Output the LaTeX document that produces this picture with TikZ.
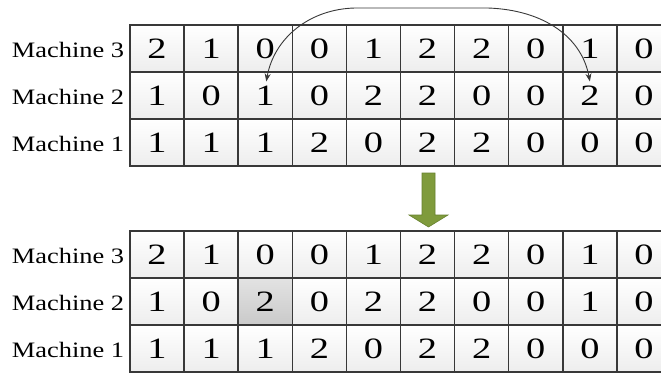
\documentclass[tikz,border=0pt]{standalone}
\usepackage{fontspec}
\setmainfont{Liberation Serif}
\newfontfamily\labfont{Liberation Serif}[FakeStretch=1.2]
\newfontfamily\digfont{Liberation Serif}[FakeStretch=1.3]
\usetikzlibrary{arrows.meta,calc}
\definecolor{gridline}{HTML}{383838}
\definecolor{olivearrow}{HTML}{7F9B3C}
\definecolor{olivedark}{HTML}{66802E}
\tikzset{
  cell/.style={draw=gridline, line width=1.4pt, minimum width=54pt, minimum height=47pt,
    inner sep=0pt, top color=white, bottom color=gray!14, font=\digfont\fontsize{29.5}{29.5}\selectfont},
  hicell/.style={cell, top color=gray!22, bottom color=gray!42},
  machlabel/.style={anchor=east, inner sep=0pt, font=\labfont\fontsize{22}{22}\selectfont},
  swaparrow/.style={draw=gridline, line width=0.9pt, {Stealth[length=8pt,width=6pt]}-{Stealth[length=8pt,width=6pt]}}
}
\begin{document}
\begin{tikzpicture}[x=1pt,y=-1pt]
\useasboundingbox (0,0) rectangle (661,372);
% top grid
\foreach \rowvals [count=\r] in {{2,1,0,0,1,2,2,0,1,0},{1,0,1,0,2,2,0,0,2,0},{1,1,1,2,0,2,2,0,0,0}}{
  \foreach \v [count=\c] in \rowvals {
    \node[cell] (t-\r-\c) at ({130+54.1*(\c-0.5)},{25+47*(\r-0.5)}) {\v};
  }
}
% bottom grid
\foreach \rowvals [count=\r] in {{2,1,0,0,1,2,2,0,1,0},{1,0,2,0,2,2,0,0,1,0},{1,1,1,2,0,2,2,0,0,0}}{
  \foreach \v [count=\c] in \rowvals {
    \ifnum\r=2 \ifnum\c=3
      \node[hicell] (b-\r-\c) at ({130+54.1*(\c-0.5)},{231+47*(\r-0.5)}) {\v};
    \else
      \node[cell] (b-\r-\c) at ({130+54.1*(\c-0.5)},{231+47*(\r-0.5)}) {\v};
    \fi\else
      \node[cell] (b-\r-\c) at ({130+54.1*(\c-0.5)},{231+47*(\r-0.5)}) {\v};
    \fi
  }
}
% labels
\foreach \g in {t,b}{
  \node[machlabel] (\g-lab3) at ($(\g-1-1.west)+(-5,1)$) {Machine 3};
  \node[machlabel] (\g-lab2) at ($(\g-2-1.west)+(-5,1)$) {Machine 2};
  \node[machlabel] (\g-lab1) at ($(\g-3-1.west)+(-5,1)$) {Machine 1};
}
% swap arrow
\coordinate (s1) at ($(t-2-3.center)+(1,-14)$);
\coordinate (s2) at ($(t-2-9.center)+(0,-14)$);
\draw[swaparrow] (s1) .. controls ($(s1)+(8,-44)$) and (310,9) .. (355,8) -- (488,8)
  .. controls (545,10) and (582,38) .. (s2);
% green down arrow
\fill[olivearrow, draw=olivedark, line width=0.6pt]
  (422,173) -- (435,173) -- (435,215) -- (448,215) -- (428.5,227) -- (409,215) -- (422,215) -- cycle;
\end{tikzpicture}
\end{document}
